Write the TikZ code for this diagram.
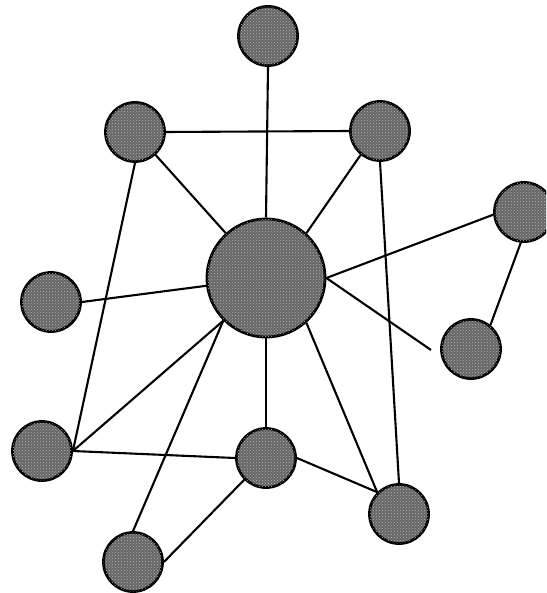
\documentclass[tikz,border=0pt]{standalone}
\usetikzlibrary{patterns}
\begin{document}
\begin{tikzpicture}[x=1pt,y=-1pt,dot/.style={circle,draw,line width=2.8pt,fill=black!60,postaction={pattern=crosshatch dots,pattern color=white!70!black},inner sep=0pt,minimum size=59pt},hubdot/.style={dot,minimum size=118pt},link/.style={line width=2.1pt}]
\useasboundingbox (0,0) rectangle (546,593);
\clip (0,0) rectangle (546,593);
\node[hubdot] (hub) at (266,278) {};
\node[dot] (top) at (268,36) {};
\node[dot] (ul) at (135,132) {};
\node[dot] (ur) at (380,131) {};
\node[dot] (rt) at (524,212) {};
\node[dot] (lft) at (51,302) {};
\node[dot] (rl) at (471,349) {};
\node[dot] (ll) at (42,451) {};
\node[dot] (lm) at (266,458) {};
\node[dot] (lr) at (399,514) {};
\node[dot] (bl) at (133,562) {};
\coordinate (tip) at (431,350);
\draw[link] (top.south) -- (hub.north);
\draw[link] (ul.east) -- (ur.west);
\draw[link] (ul) -- (hub);
\draw[link] (hub.48) -- (ur.231);
\draw[link] (ul.south) -- (ll.east);
\draw[link] (ur.south) -- (lr.north);
\draw[link] (hub) -- (lft.east);
\draw[link] (hub.east) -- (rt.185);
\draw[link] (hub.east) -- (tip);
\draw[link] (rt.264) -- (rl.51);
\draw[link] (hub.225) -- (ll.east);
\draw[link] (hub.225) -- (bl.north);
\draw[link] (hub.south) -- (lm.north);
\draw[link] (hub.312) -- (lr.135);
\draw[link] (ll.east) -- (lm.west);
\draw[link] (lm.east) -- (lr.135);
\draw[link] (bl.east) -- (lm.225);
\end{tikzpicture}
\end{document}
